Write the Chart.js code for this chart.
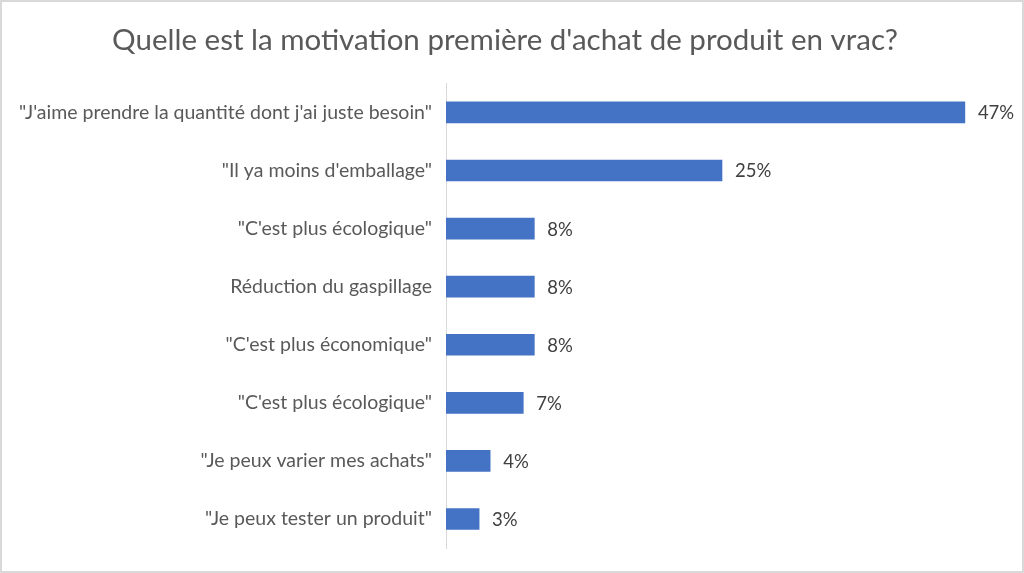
<!DOCTYPE html>
<html>
<head>
<meta charset="utf-8">
<script src="https://cdn.jsdelivr.net/npm/chart.js@4"></script>
<style>
  html, body { margin: 0; padding: 0; background: #fff; }
  #wrap { width: 1020px; height: 569px; border: 2px solid #d9d9d9; }
</style>
</head>
<body>
<div id="wrap"><canvas id="chart" width="1020" height="569"></canvas></div>
<script>
// Chart data
const categories = [
    '"J\'aime prendre la quantité dont j\'ai juste besoin"',
    '"Il ya moins d\'emballage"',
    '"C\'est plus écologique"',
    'Réduction du gaspillage',
    '"C\'est plus économique"',
    '"C\'est plus écologique"',
    '"Je peux varier mes achats"',
    '"Je peux tester un produit"'
];
const values = [47, 25, 8, 8, 8, 7, 4, 3];
const valueLabels = ['47%', '25%', '8%', '8%', '8%', '7%', '4%', '3%'];
const chartTitle = 'Quelle est la motivation première d\'achat de produit en vrac?';

const fontFamily = 'Lato, "Open Sans", sans-serif';

// draws the % next to each bar
const barValuePlugin = {
    id: 'barValues',
    afterDatasetsDraw(chart) {
        const ctx = chart.ctx;
        const meta = chart.getDatasetMeta(0);
        ctx.save();
        ctx.font = '18.5px ' + fontFamily;
        ctx.fillStyle = '#404040';
        ctx.textAlign = 'left';
        ctx.textBaseline = 'middle';
        meta.data.forEach((bar, i) => {
            ctx.fillText(valueLabels[i], bar.x + 13, bar.y + 1);
        });
        ctx.restore();
    }
};

const ctx = document.getElementById('chart').getContext('2d');
new Chart(ctx, {
    type: 'bar',
    data: {
        labels: categories,
        datasets: [{
            data: values,
            backgroundColor: '#4472c4',
            barThickness: 21
        }]
    },
    plugins: [barValuePlugin],
    options: {
        indexAxis: 'y',
        responsive: false,
        animation: false,
        layout: { padding: { left: 10, right: 24, top: 0, bottom: 23 } },
        plugins: {
            legend: { display: false },
            tooltip: { enabled: false },
            title: {
                display: true,
                text: chartTitle,
                color: '#595959',
                font: { family: fontFamily, size: 29.5, weight: 'normal' },
                padding: { top: 21, bottom: 25 }
            }
        },
        scales: {
            x: {
                display: false,
                min: 0,
                max: 50
            },
            y: {
                grid: { display: false },
                border: { display: true, color: '#d9d9d9', width: 1 },
                ticks: {
                    color: '#595959',
                    padding: 6,
                    font: { family: fontFamily, size: 19.5 }
                },
                afterFit(scale) { scale.width = 434; }
            }
        }
    }
});
</script>
</body>
</html>
